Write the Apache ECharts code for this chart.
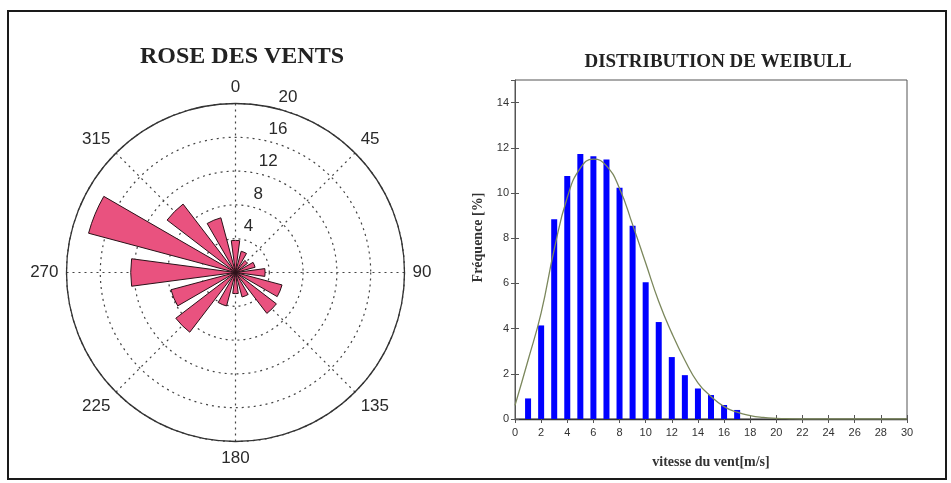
<!DOCTYPE html>
<html>
<head>
<meta charset="utf-8">
<script src="https://cdn.jsdelivr.net/npm/echarts@6/dist/echarts.min.js"></script>
<style>
html,body{margin:0;padding:0;background:#fff;}
#wrap{position:relative;width:951px;height:483px;}
#chart{position:absolute;left:0;top:0;width:951px;height:483px;}
#frame{position:absolute;left:7px;top:10px;width:940px;height:470px;box-sizing:border-box;border:2px solid #1a1a1a;pointer-events:none;}
</style>
</head>
<body>
<div id="wrap"><div id="chart"></div><div id="frame"></div></div>
<script>
// ---- Rose des vents data (16 directions, clockwise from North) ----
const directions = ['N','NNE','NE','ENE','E','ESE','SE','SSE','S','SSW','SW','WSW','W','WNW','NW','NNW'];
const roseValues = [3.8, 2.6, 1.8, 2.4, 3.5, 5.7, 6.1, 3.0, 2.5, 4.1, 8.9, 7.9, 12.4, 18.0, 10.2, 6.7];
const ringLabels = [4, 8, 12, 16, 20];
const ringLabelAngle = 17;

// ---- Weibull distribution data ----
const speeds = [1,2,3,4,5,6,7,8,9,10,11,12,13,14,15,16,17];
const frequencies = [0.91,4.14,8.84,10.75,11.73,11.63,11.48,10.23,8.55,6.05,4.29,2.74,1.94,1.35,1.06,0.62,0.40];
const curveSpeeds = [0,1,2,3,4,5,6,7,8,9,10,11,12,13,14,15,16,17,18,19,20,21,22,23,24,25,26,27,28,29,30];
const curveValues = [0.6,2.6,4.7,7.5,9.8,11.1,11.5,11.2,10.2,8.6,6.9,5.2,3.8,2.6,1.6,1.0,0.55,0.3,0.15,0.07,0.03,0.01,0,0,0,0,0,0,0,0,0];

const chart = echarts.init(document.getElementById('chart'), null, {renderer:'canvas'});
const center = [235.5, 272.5];
const R = 169;
const dirStep = 360 / directions.length;

const option = {
  backgroundColor: '#ffffff',
  animation: false,
  title: [
    {text:'ROSE DES VENTS', left:237, top:40, textAlign:'center',
     textStyle:{fontFamily:'Liberation Serif', fontWeight:'bold', fontSize:24, color:'#222'}},
    {text:'DISTRIBUTION DE WEIBULL', left:713, top:48, textAlign:'center',
     textStyle:{fontFamily:'Liberation Serif', fontWeight:'bold', fontSize:19, color:'#222'}}
  ],
  polar: [
    {center: center, radius: R},
    {center: center, radius: R}
  ],
  angleAxis: [
    {polarIndex:0, type:'value', min:0, max:360, interval:45, startAngle:90, clockwise:true,
     axisLine:{show:true, lineStyle:{color:'#333', width:1.3}},
     axisTick:{show:false},
     axisLabel:{margin:8, fontFamily:'Liberation Sans', fontSize:17, color:'#2a2a2a',
       formatter: v => (v === 360 ? '' : String(v))},
     splitLine:{show:true, lineStyle:{color:'#444', type:[2,4], width:1.2}}},
    {polarIndex:1, type:'category', data:directions, startAngle:90 + dirStep/2, clockwise:true,
     boundaryGap:true, axisLine:{show:false}, axisTick:{show:false}, axisLabel:{show:false}, splitLine:{show:false}}
  ],
  radiusAxis: [
    {polarIndex:0, type:'value', min:0, max:20, interval:4,
     axisLine:{show:false}, axisTick:{show:false}, axisLabel:{show:false},
     splitLine:{show:true, lineStyle:{color:'#444', type:[2,4], width:1.2}}},
    {polarIndex:1, type:'value', min:0, max:20,
     axisLine:{show:false}, axisTick:{show:false}, axisLabel:{show:false}, splitLine:{show:false}}
  ],
  grid: {left:515, right:44, top:80, bottom:64, show:true, borderColor:'#555', borderWidth:1, backgroundColor:'transparent'},
  xAxis: [
    {type:'value', min:0, max:30, interval:2, position:'bottom',
     axisLine:{show:true, onZero:false, lineStyle:{color:'#333', width:1.3}},
     axisTick:{show:true, inside:true, length:4, lineStyle:{color:'#555'}},
     axisLabel:{fontFamily:'Liberation Sans', fontSize:11, color:'#333', margin:8},
     splitLine:{show:false},
     name:'vitesse du vent[m/s]', nameLocation:'middle', nameGap:36,
     nameTextStyle:{fontFamily:'Liberation Serif', fontWeight:'bold', fontSize:14, color:'#333'}},
    {type:'value', min:0, max:30, interval:2, position:'top',
     axisLine:{show:false}, axisTick:{show:true, inside:true, length:4, lineStyle:{color:'#555'}},
     axisLabel:{show:false}, splitLine:{show:false}}
  ],
  yAxis: [
    {type:'value', min:0, max:15, interval:2, position:'left',
     axisLine:{show:true, onZero:false, lineStyle:{color:'#555'}},
     axisTick:{show:true, inside:true, length:4, lineStyle:{color:'#555'}},
     axisLabel:{fontFamily:'Liberation Sans', fontSize:11, color:'#333', margin:6, showMaxLabel:false},
     splitLine:{show:false},
     name:'Fréquence [%]', nameLocation:'middle', nameGap:30,
     nameTextStyle:{fontFamily:'Liberation Serif', fontWeight:'bold', fontSize:14, color:'#333', padding:[0,0,0,24]}},
    {type:'value', min:0, max:15, interval:2, position:'right',
     axisLine:{show:false}, axisTick:{show:true, inside:true, length:4, lineStyle:{color:'#555'}},
     axisLabel:{show:false}, splitLine:{show:false}}
  ],
  series: [
    {type:'bar', coordinateSystem:'polar', polarIndex:1, data:roseValues,
     barCategoryGap:'33%', itemStyle:{color:'#e9527f', borderColor:'#2a1118', borderWidth:1}, z:3},
    {type:'scatter', coordinateSystem:'polar', polarIndex:0, symbolSize:0,
     itemStyle:{opacity:1},
     data: ringLabels.map(v => [v, ringLabelAngle]),
     label:{show:true, position:'inside', offset:[3,-14], formatter: p => String(p.value[0]),
       fontFamily:'Liberation Sans', fontSize:17, color:'#2a2a2a', opacity:1}, z:4},
    {type:'bar', xAxisIndex:0, yAxisIndex:0, barWidth:6,
     data: speeds.map((s,i) => [s, frequencies[i]]),
     itemStyle:{color:'#0000ff'}, z:2},
    {type:'line', xAxisIndex:0, yAxisIndex:0, smooth:true, showSymbol:false, symbol:'none',
     data: curveSpeeds.map((s,i) => [s, curveValues[i]]),
     lineStyle:{color:'#7b875c', width:1.3}, z:3}
  ]
};
chart.setOption(option);
</script>
</body>
</html>
